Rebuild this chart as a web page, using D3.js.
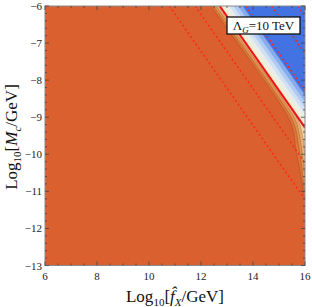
<!DOCTYPE html>
<html><head><meta charset="utf-8">
<script src="https://cdn.jsdelivr.net/npm/d3@7"></script>
<style>html,body{margin:0;padding:0;background:#fff}svg{display:block}</style>
</head><body><div id="chart"></div>
<script>
// axis setup
const xDomain = [6, 16];
const yDomain = [-13, -6];
const xMajor = [6, 8, 10, 12, 14, 16];
const yMajor = [-6, -7, -8, -9, -10, -11, -12, -13];

// contour boundaries on the orange side (data coords)
const b0 = [[12.37,-6],[15.26,-8.89],[15.54,-9.35],[15.65,-9.89],[15.77,-10.30],[15.88,-10.76],[16,-11.24]];
const b1 = [[12.47,-6],[15.44,-8.97],[15.65,-9.35],[15.77,-9.84],[15.87,-10.30],[15.94,-10.76],[16,-11.03]];
const b2 = [[12.57,-6],[15.60,-9.03],[15.77,-9.41],[15.87,-9.84],[15.94,-10.24],[16,-10.57]];
const b3 = [[12.65,-6],[15.73,-9.08],[15.88,-9.43],[15.96,-9.76],[16,-10.03]];
// straight contours on the blue side, given as log M + log f = const
const blueLevels = [6.72, 6.90, 7.08, 7.25, 7.42, 7.60];
const bandColors = ['#DD7538','#E29250','#E9B274','#F1D49C','#F5EDCB','#EAEEE8','#D2E1F2','#AFCAF3','#86ACEF','#4372E3'];

const solidLevel = 6.72;
const dashedLevels = [4.78, 5.77, 7.72, 8.72, 9.72];

const W = 312, H = 307;
const x = d3.scaleLinear().domain(xDomain).range([45, 305]);
const y = d3.scaleLinear().domain(yDomain).range([265.5, 6]);

const svg = d3.select('#chart').append('svg').attr('width', W).attr('height', H)
  .style('font-family', '"Liberation Serif", "DejaVu Serif", serif');

svg.append('clipPath').attr('id', 'plot').append('rect')
  .attr('x', x(6)).attr('y', y(-6)).attr('width', x(16)-x(6)).attr('height', y(-13)-y(-6));

const g = svg.append('g').attr('clip-path', 'url(#plot)');
g.append('rect').attr('x', x(6)).attr('y', y(-6)).attr('width', x(16)-x(6)).attr('height', y(-13)-y(-6))
  .attr('fill', '#DA6030');

const diag = c => [[c + 6, -6], [16, c - 16]];
const boundaries = [b0, b1, b2, b3].concat(blueLevels.map(diag));
const curve = d3.line().x(d => x(d[0])).y(d => y(d[1])).curve(d3.curveCatmullRom);

boundaries.forEach((pts, i) => {
  g.append('path')
    .attr('d', curve(pts) + `L${x(16)},${y(-6)}Z`)
    .attr('fill', bandColors[i]);
});
// thin contour lines, only visible on the orange side
[b0, b1, b2, b3].forEach(pts => {
  g.append('path').attr('d', curve(pts)).attr('fill', 'none')
    .attr('stroke', 'rgba(120,55,20,0.4)').attr('stroke-width', 0.7);
});

const straight = d3.line().x(d => x(d[0])).y(d => y(d[1]));
dashedLevels.forEach(c => {
  g.append('path').attr('d', straight(diag(c))).attr('fill', 'none')
    .attr('stroke', '#FF2419').attr('stroke-width', 1.4).attr('stroke-dasharray', '2,2.6');
});
g.append('path').attr('d', straight(diag(solidLevel))).attr('fill', 'none')
  .attr('stroke', '#F0121A').attr('stroke-width', 2);

// frame + ticks
const frame = svg.append('g');
frame.append('rect').attr('x', x(6)).attr('y', y(-6)).attr('width', x(16)-x(6)).attr('height', y(-13)-y(-6))
  .attr('fill', 'none').attr('stroke', '#8c8c8c').attr('stroke-width', 1);

const xMinor = d3.range(6, 16.01, 0.5).filter(v => !xMajor.includes(v));
const yMinor = d3.range(-13, -5.99, 0.2).map(v => +v.toFixed(1)).filter(v => !yMajor.includes(v));
const tk = frame.append('g').attr('stroke', '#444').attr('stroke-width', 0.8);
xMajor.forEach(v => {
  tk.append('line').attr('x1', x(v)).attr('x2', x(v)).attr('y1', y(-13)).attr('y2', y(-13)-4);
  tk.append('line').attr('x1', x(v)).attr('x2', x(v)).attr('y1', y(-6)).attr('y2', y(-6)+4);
});
xMinor.forEach(v => {
  tk.append('line').attr('x1', x(v)).attr('x2', x(v)).attr('y1', y(-13)).attr('y2', y(-13)-2);
  tk.append('line').attr('x1', x(v)).attr('x2', x(v)).attr('y1', y(-6)).attr('y2', y(-6)+2);
});
yMajor.forEach(v => {
  tk.append('line').attr('y1', y(v)).attr('y2', y(v)).attr('x1', x(6)).attr('x2', x(6)+4);
  tk.append('line').attr('y1', y(v)).attr('y2', y(v)).attr('x1', x(16)).attr('x2', x(16)-4);
});
yMinor.forEach(v => {
  tk.append('line').attr('y1', y(v)).attr('y2', y(v)).attr('x1', x(6)).attr('x2', x(6)+2);
  tk.append('line').attr('y1', y(v)).attr('y2', y(v)).attr('x1', x(16)).attr('x2', x(16)-2);
});

svg.append('g').selectAll('text').data(xMajor).join('text')
  .attr('x', d => x(d)).attr('y', 280).attr('text-anchor', 'middle')
  .attr('font-size', 11).attr('fill', '#222').text(d => d);
svg.append('g').selectAll('text').data(yMajor).join('text')
  .attr('x', 42).attr('y', d => y(d) + 4).attr('text-anchor', 'end')
  .attr('font-size', 11).attr('fill', '#222').text(d => '\u2212' + Math.abs(d));

// axis titles
const xt = svg.append('text').attr('x', 175).attr('y', 302).attr('text-anchor', 'middle')
  .attr('font-size', 17).attr('fill', '#111');
xt.append('tspan').text('Log');
xt.append('tspan').attr('font-size', 11).attr('dy', 4).text('10');
xt.append('tspan').attr('dy', -4).text('[');
xt.append('tspan').attr('font-style', 'italic').text('f\u0302');
xt.append('tspan').attr('font-style', 'italic').attr('font-size', 11).attr('dy', 4).text('X');
xt.append('tspan').attr('dy', -4).text('/GeV]');

const yt = svg.append('text').attr('transform', 'translate(17,137) rotate(-90)')
  .attr('text-anchor', 'middle').attr('font-size', 17).attr('fill', '#111');
yt.append('tspan').text('Log');
yt.append('tspan').attr('font-size', 11).attr('dy', 4).text('10');
yt.append('tspan').attr('dy', -4).text('[');
yt.append('tspan').attr('font-style', 'italic').text('M');
yt.append('tspan').attr('font-style', 'italic').attr('font-size', 11).attr('dy', 4).text('c');
yt.append('tspan').attr('dy', -4).text('/GeV]');

// legend box
svg.append('rect').attr('x', 227).attr('y', 17).attr('width', 73).attr('height', 17)
  .attr('fill', '#fff').attr('stroke', '#111').attr('stroke-width', 1.3);
const lt = svg.append('text').attr('x', 263.5).attr('y', 30).attr('text-anchor', 'middle')
  .attr('font-size', 13).attr('fill', '#111');
lt.append('tspan').text('\u039B');
lt.append('tspan').attr('font-style', 'italic').attr('font-size', 9).attr('dy', 3).text('G');
lt.append('tspan').attr('dy', -3).text('=10 TeV');
</script>
</body></html>
